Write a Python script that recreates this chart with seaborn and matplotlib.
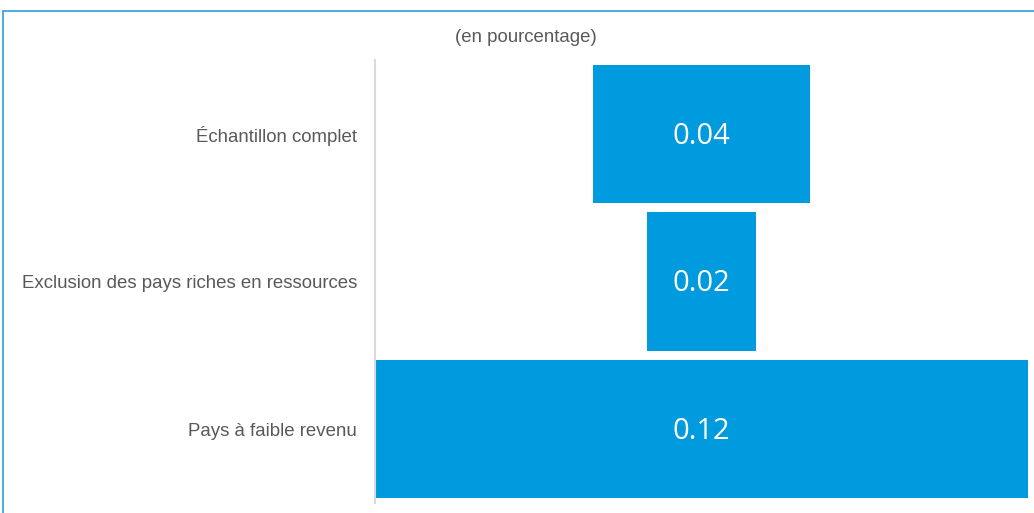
import matplotlib
matplotlib.use("Agg")
import matplotlib.pyplot as plt
import seaborn as sns
import pandas as pd
from matplotlib.patches import Rectangle

categories = ["Échantillon complet", "Exclusion des pays riches en ressources", "Pays à faible revenu"]
values = [0.04, 0.02, 0.12]
value_labels = ["0.04", "0.02", "0.12"]
title = "(en pourcentage)"

sns.set_theme(style="white")
plt.rcParams["font.family"] = ["Liberation Sans", "DejaVu Sans"]

W, H = 1034, 513
fig = plt.figure(figsize=(W / 100, H / 100), dpi=100)
ax = fig.add_axes([375 / W, 1 - 503 / H, (1028 - 375) / W, (503 - 60) / H])

vmax = max(values)
df = pd.DataFrame({
    "cat": categories,
    "val": values,
    "left": [(vmax - v) / 2 for v in values],
})

sns.barplot(data=df, y="cat", x="val", orient="h", color="#009ADE", saturation=1,
            width=0.935, left=df["left"].values, ax=ax, edgecolor="none")

ax.set_xlim(0, vmax)
ax.set_ylim(2.5, -0.5)
ax.set_xlabel("")
ax.set_ylabel("")
ax.set_xticks([])
for s in ["top", "right", "bottom"]:
    ax.spines[s].set_visible(False)
ax.spines["left"].set_color("#d9d9d9")
ax.spines["left"].set_linewidth(1.5)
ax.tick_params(axis="y", length=0, pad=13, labelsize=13.4, labelcolor="#595959")

for i, (v, lab) in enumerate(zip(values, value_labels)):
    ax.text(vmax / 2, i + 0.015, lab, ha="center", va="center", color="white",
            fontsize=21, family=["Open Sans", "DejaVu Sans"])

fig.text(526 / W, 1 - 37 / H, title, ha="center", va="center", fontsize=13.4, color="#595959")

fig.add_artist(Rectangle((3 / W, -0.1), 1.2, (H - 11) / H + 0.1, transform=fig.transFigure,
                         fill=False, edgecolor="#2aa0d8", linewidth=1.2))

fig.savefig("out.png", dpi=100)
